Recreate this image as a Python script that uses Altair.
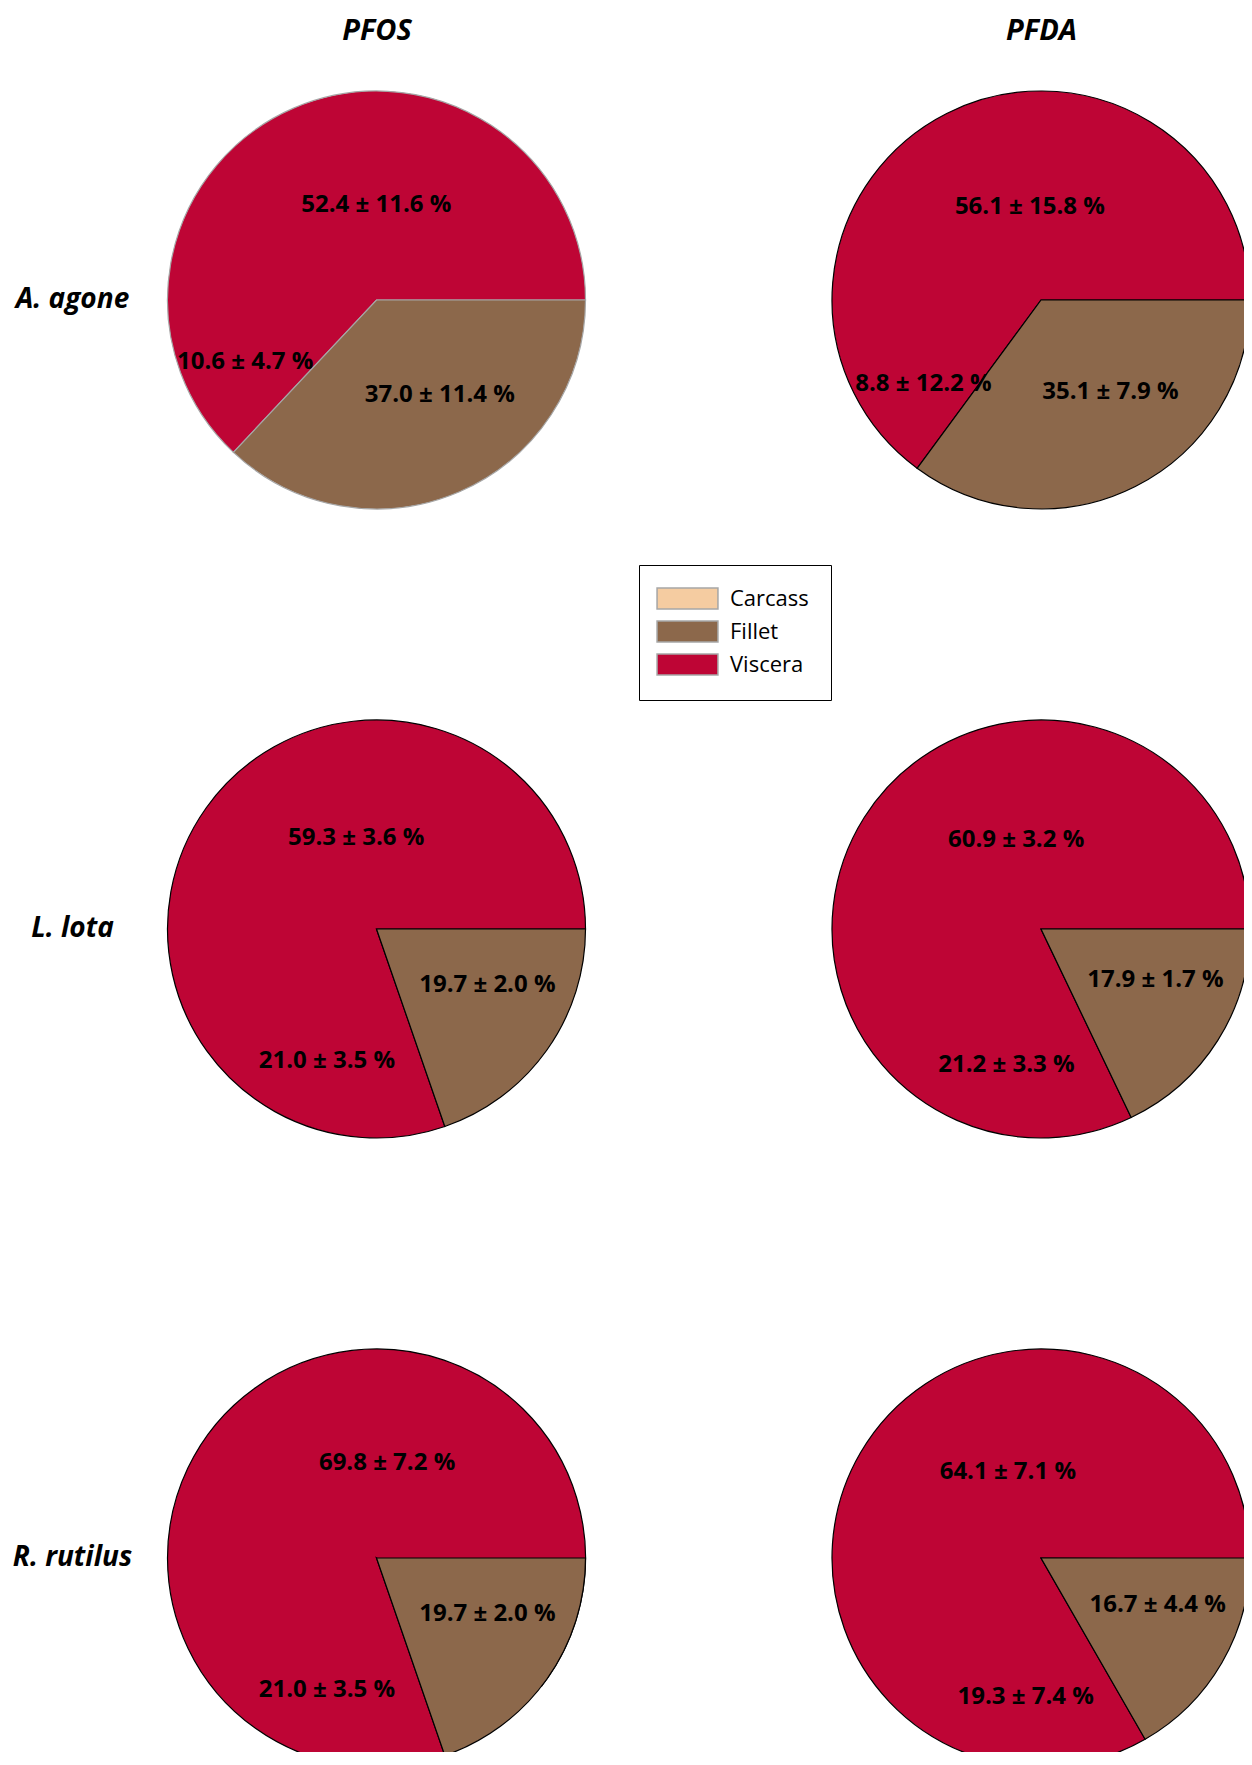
import math
import pandas as pd
import altair as alt

# ---------------- data ----------------
species = ["A. agone", "L. lota", "R. rutilus"]
compounds = ["PFOS", "PFDA"]
tissues = ["Fillet", "Carcass", "Viscera"]          # order of the slices (clockwise from 3 o'clock)
legend_order = ["Carcass", "Fillet", "Viscera"]

# mean share (%) for [Fillet, Carcass, Viscera]
pfos_mean = {"A. agone": [37.0, 10.6, 52.4], "L. lota": [19.7, 21.0, 59.3], "R. rutilus": [19.7, 21.0, 69.8]}
pfos_sd = {"A. agone": [11.4, 4.7, 11.6], "L. lota": [2.0, 3.5, 3.6], "R. rutilus": [2.0, 3.5, 7.2]}
pfda_mean = {"A. agone": [35.1, 8.8, 56.1], "L. lota": [17.9, 21.2, 60.9], "R. rutilus": [16.7, 19.3, 64.1]}
pfda_sd = {"A. agone": [7.9, 12.2, 15.8], "L. lota": [1.7, 3.3, 3.2], "R. rutilus": [4.4, 7.4, 7.1]}

rows = []
for comp, means, sds in [("PFOS", pfos_mean, pfos_sd), ("PFDA", pfda_mean, pfda_sd)]:
    for sp in species:
        for i, t in enumerate(tissues):
            rows.append({"Compound": comp, "Species": sp, "Tissue": t, "ord": i,
                         "mean": means[sp][i], "sd": sds[sp][i]})
df = pd.DataFrame(rows)

# ---------------- styling ----------------
RED = "#BE0535"
BROWN = "#8C684B"
PEACH = "#F5CCA1"
FONT = "Open Sans"
R = 209

x_enc = alt.X("Compound:N",
              scale=alt.Scale(type="point", domain=compounds, padding=0.31716, align=0.5184),
              axis=alt.Axis(orient="top", title=None, domain=False, ticks=False,
                            labelPadding=0, labelAngle=0, labelFontSize=29))
y_enc = alt.Y("Species:N",
              scale=alt.Scale(type="point", domain=species, padding=0.3569, align=0.5679),
              axis=alt.Axis(orient="left", title=None, domain=False, ticks=False,
                            labelAlign="center", labelBaseline="middle", labelPadding=86,
                            labelFontSize=28))
theta_scale = alt.Scale(domain=[0, 100], range=[math.pi / 2, math.pi / 2 + 2 * math.pi])

base = alt.Chart(df).transform_stack(
    stack="mean", groupby=["Species", "Compound"], as_=["v0", "v1"],
    sort=[alt.SortField("ord", order="ascending")]
).encode(x=x_enc, y=y_enc)

stroke_cond = alt.condition(
    "datum.Species == 'A. agone' && datum.Compound == 'PFOS'",
    alt.value("#A6A6A6"), alt.value("#000000"))

legend_layer = base.mark_arc(radius=R - 1).encode(
    theta=alt.Theta("v0:Q", scale=theta_scale),
    theta2=alt.Theta2("v1"),
    color=alt.Color("Tissue:N",
                    scale=alt.Scale(domain=legend_order, range=[PEACH, BROWN, RED]),
                    legend=alt.Legend(title=None, orient="none", legendX=481, legendY=520,
                                      padding=22, strokeColor="black", fillColor="white",
                                      labelFont=FONT, labelFontSize=22, labelColor="black",
                                      labelOffset=31, rowPadding=6, symbolOffset=15,
                                      symbolType="M-2.9,-1H2.9V1H-2.9Z", symbolSize=441,
                                      symbolStrokeColor="#A6A6A6", symbolStrokeWidth=1.5,
                                      symbolOpacity=1)),
)

rest_layer = base.transform_filter("datum.Tissue != 'Fillet'").transform_aggregate(
    v0="min(v0)", v1="max(v1)", groupby=["Species", "Compound"]
).mark_arc(radius=R, fill=RED, strokeWidth=1.2).encode(
    theta=alt.Theta("v0:Q", scale=theta_scale),
    theta2=alt.Theta2("v1"),
    stroke=stroke_cond,
)

fillet_layer = base.transform_filter("datum.Tissue == 'Fillet'").mark_arc(
    radius=R, fill=BROWN, strokeWidth=1.2).encode(
    theta=alt.Theta("v0:Q", scale=theta_scale),
    theta2=alt.Theta2("v1"),
    stroke=stroke_cond,
)

# label placement style per tissue: (radius, dx, dy)
label_style = {"Viscera": (95, 7, 0), "Fillet": (114, 18, -10), "Carcass": (145, -3, -5)}
text_layers = []
for t in tissues:
    rad, ddx, ddy = label_style[t]
    text_layers.append(
        base.transform_filter(f"datum.Tissue == '{t}'").transform_calculate(
            mid="(datum.v0 + datum.v1) / 2",
            label="format(datum.mean, '.1f') + ' ± ' + format(datum.sd, '.1f') + ' %'",
        ).mark_text(radius=rad, dx=ddx, dy=ddy, font=FONT, fontSize=24, fontWeight="bold",
                    color="black", align="center", baseline="middle").encode(
            theta=alt.Theta("mid:Q", scale=theta_scale),
            text="label:N",
        )
    )

chart = alt.layer(legend_layer, rest_layer, fillet_layer, *text_layers).properties(
    width=1086, height=1707,
    padding={"left": 150, "top": 37, "right": 0, "bottom": 0},
    autosize=alt.AutoSizeParams(type="none"),
    background="white",
).configure_view(strokeWidth=0).configure_axis(
    labelFont=FONT, labelFontWeight="bold", labelFontStyle="italic",
    labelColor="black", grid=False,
)

chart.save("out.html", embed_options={"renderer": "svg", "actions": False})
